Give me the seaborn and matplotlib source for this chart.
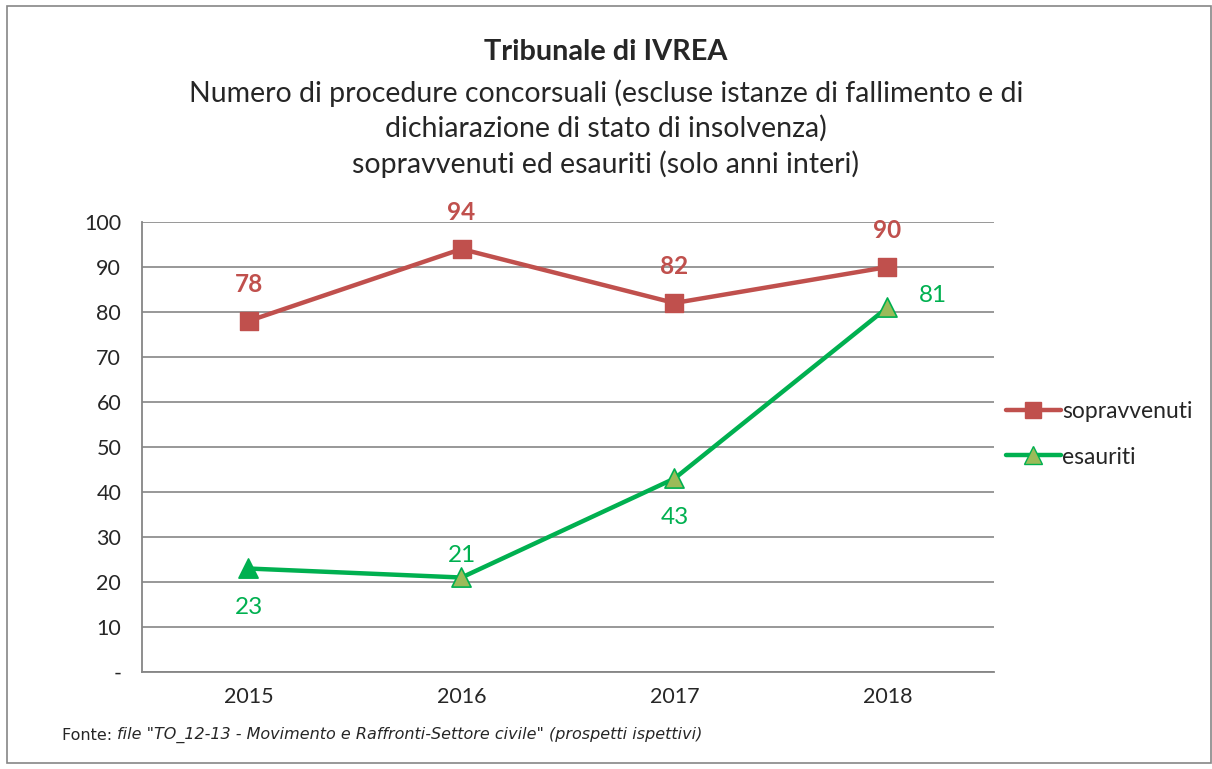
import seaborn as sns
import pandas as pd
import matplotlib.pyplot as plt
from matplotlib.lines import Line2D
from matplotlib.patches import Rectangle

anni = ['2015', '2016', '2017', '2018']
sopravvenuti = [78, 94, 82, 90]
esauriti = [23, 21, 43, 81]
y_ticks = [0, 10, 20, 30, 40, 50, 60, 70, 80, 90, 100]
y_labels = ['-', '10', '20', '30', '40', '50', '60', '70', '80', '90', '100']

rosso = '#C0504D'
verde = '#00B050'
oliva = '#9BBB59'
grigio = '#868686'

df = pd.DataFrame({'anno': anni, 'sopravvenuti': sopravvenuti, 'esauriti': esauriti})
df['pos'] = range(len(anni))

sns.set_style('white')
plt.rcParams['font.family'] = ['Lato', 'DejaVu Sans']

fig = plt.figure(figsize=(12.12, 7.69), dpi=100)
ax = fig.add_axes([0.1172, 0.1261, 0.7029, 0.5852])

# linee
sns.lineplot(x='pos', y='sopravvenuti', data=df, color=rosso, lw=3.2, ax=ax, zorder=3)
sns.lineplot(x='pos', y='esauriti', data=df, color=verde, lw=3.2, ax=ax, zorder=3)

# marcatori
ax.scatter(df['pos'], df['sopravvenuti'], marker='s', s=150, color=rosso, zorder=4)
fc = [verde] + [oliva] * (len(anni) - 1)
ax.scatter(df['pos'], df['esauriti'], marker='^', s=190, facecolors=fc,
           edgecolors=verde, linewidths=1.2, zorder=4)

# etichette dati
for i, v in enumerate(sopravvenuti):
    ax.annotate(str(v), (i, v), xytext=(0, 26), textcoords='offset points',
                ha='center', va='center', color=rosso, fontsize=17.5, fontweight='bold')
offs = [(0, -28), (0, 16), (0, -28), (33, 9)]
for i, v in enumerate(esauriti):
    ax.annotate(str(v), (i, v), xytext=offs[i], textcoords='offset points',
                ha='center', va='center', color=verde, fontsize=17.5)

ax.set_xlim(-0.5, len(anni) - 0.5)
ax.set_ylim(0, 100)
ax.set_yticks(y_ticks)
ax.set_yticklabels(y_labels)
ax.set_xticks(range(len(anni)))
ax.set_xticklabels(anni)
ax.set_xticks([i - 0.5 for i in range(len(anni) + 1)], minor=True)
ax.tick_params(axis='x', which='major', length=0, pad=11, labelsize=15.5)
ax.tick_params(axis='x', which='minor', length=7, color=grigio, width=1.3, direction='out')
ax.tick_params(axis='y', length=7, color=grigio, width=1.3, direction='out', pad=8, labelsize=15.5)
ax.grid(axis='y', color=grigio, lw=1.2)
ax.set_xlabel('')
ax.set_ylabel('')
for s in ['top', 'right']:
    ax.spines[s].set_visible(False)
for s in ['left', 'bottom']:
    ax.spines[s].set_color(grigio)
    ax.spines[s].set_linewidth(1.3)

# legenda
handles = [
    Line2D([], [], color=rosso, lw=3.2, marker='s', markersize=12),
    Line2D([], [], color=verde, lw=3.2, marker='^', markersize=13,
           markerfacecolor=oliva, markeredgecolor=verde),
]
fig.legend(handles, ['sopravvenuti', 'esauriti'], loc='center left',
           bbox_to_anchor=(0.813, 0.435), frameon=False, fontsize=16.5,
           handlelength=2.4, handletextpad=0.05, labelspacing=1.05)

# titoli
fig.text(0.5, 0.932, 'Tribunale di IVREA', ha='center', va='center',
         fontsize=20.8, fontweight='bold')
fig.text(0.5, 0.879, 'Numero di procedure concorsuali (escluse istanze di fallimento e di',
         ha='center', va='center', fontsize=20.5)
fig.text(0.5, 0.833, 'dichiarazione di stato di insolvenza)', ha='center', va='center', fontsize=20.5)
fig.text(0.5, 0.786, 'sopravvenuti ed esauriti (solo anni interi)', ha='center', va='center', fontsize=20.5)

# fonte
t1 = fig.text(0.051, 0.044, 'Fonte: ', ha='left', va='center', fontsize=11.5, family='DejaVu Sans')
r = fig.canvas.get_renderer()
x2 = fig.transFigure.inverted().transform((t1.get_window_extent(r).x1, 0))[0]
fig.text(x2, 0.044, 'file "TO_12-13 - Movimento e Raffronti-Settore civile" (prospetti ispettivi)',
         ha='left', va='center', fontsize=11.5, family='DejaVu Sans', style='italic')

fig.patches.append(Rectangle((0.006, 0.008), 0.993, 0.984, transform=fig.transFigure,
                             fill=False, edgecolor=grigio, lw=1.2))

fig.savefig('out.png', dpi=100)
